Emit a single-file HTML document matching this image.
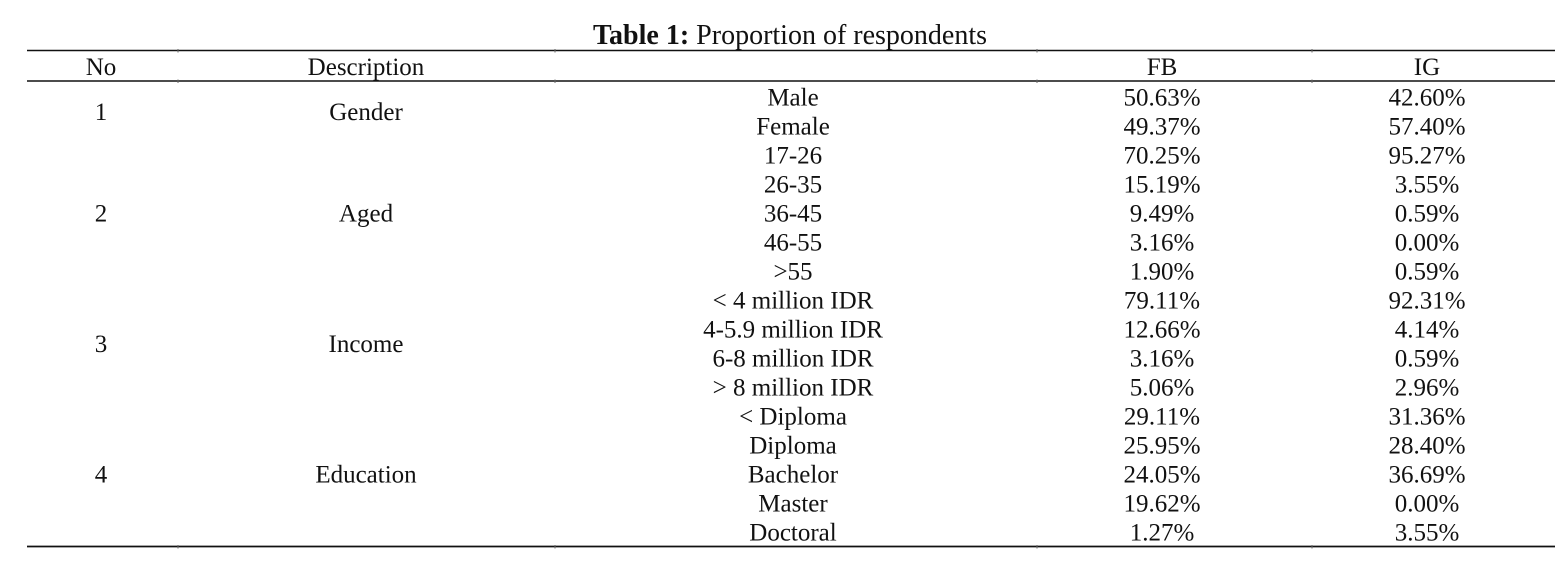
<!DOCTYPE html>
<html><head><meta charset="utf-8"><style>
html,body{margin:0;padding:0;background:#fff;width:1562px;height:561px;overflow:hidden}
svg{display:block}
text{font-family:"Liberation Serif",serif;font-size:25px;fill:#111}
</style></head><body>
<svg width="1562" height="561">
<text x="790" y="44" text-anchor="middle" style="font-size:28px"><tspan font-weight="bold">Table 1:</tspan> Proportion of respondents</text>
<line x1="27" y1="50.5" x2="1555" y2="50.5" stroke="#111" stroke-width="1.6"/>
<line x1="27" y1="81" x2="1555" y2="81" stroke="#111" stroke-width="1.6"/>
<line x1="27" y1="546.5" x2="1555" y2="546.5" stroke="#111" stroke-width="1.8"/>
<g id="ticks" stroke="#666" stroke-width="1"></g>
<g>
<text x="101" y="75" text-anchor="middle">No</text>
<text x="366" y="75" text-anchor="middle">Description</text>
<text x="1162" y="75" text-anchor="middle">FB</text>
<text x="1427" y="75" text-anchor="middle">IG</text>
</g>
<g id="body"></g>
</svg>
<script>
const items=["Male","Female","17-26","26-35","36-45","46-55",">55","< 4 million IDR","4-5.9 million IDR","6-8  million IDR","> 8 million IDR","< Diploma","Diploma","Bachelor","Master","Doctoral"];
const fb=["50.63%","49.37%","70.25%","15.19%","9.49%","3.16%","1.90%","79.11%","12.66%","3.16%","5.06%","29.11%","25.95%","24.05%","19.62%","1.27%"];
const ig=["42.60%","57.40%","95.27%","3.55%","0.59%","0.00%","0.59%","92.31%","4.14%","0.59%","2.96%","31.36%","28.40%","36.69%","0.00%","3.55%"];
const groups=[["1","Gender",0,1],["2","Aged",2,6],["3","Income",7,10],["4","Education",11,15]];
const ns="http://www.w3.org/2000/svg";
const body=document.getElementById('body');
const rowY=i=>97+i*29;
function t(x,y,s,name){const e=document.createElementNS(ns,'text');e.setAttribute('x',x);e.setAttribute('y',y+8.5);e.setAttribute('text-anchor','middle');e.textContent=s;


body.appendChild(e);}
items.forEach((s,i)=>{t(793,rowY(i),s,'item-cell');t(1162,rowY(i),fb[i],'fb-cell');t(1427,rowY(i),ig[i],'ig-cell');});
groups.forEach(g=>{const y=(rowY(g[2])+rowY(g[3]))/2;t(101,y,g[0],'group-number');t(366,y,g[1],'group-description');});
const tk=document.getElementById('ticks');
[178,555,1037,1312].forEach(x=>[50.5,81,546.5].forEach(y=>{const l=document.createElementNS(ns,'line');l.setAttribute('x1',x);l.setAttribute('x2',x);l.setAttribute('y1',y-1.5);l.setAttribute('y2',y+2);


tk.appendChild(l);}));
</script>
</body></html>
